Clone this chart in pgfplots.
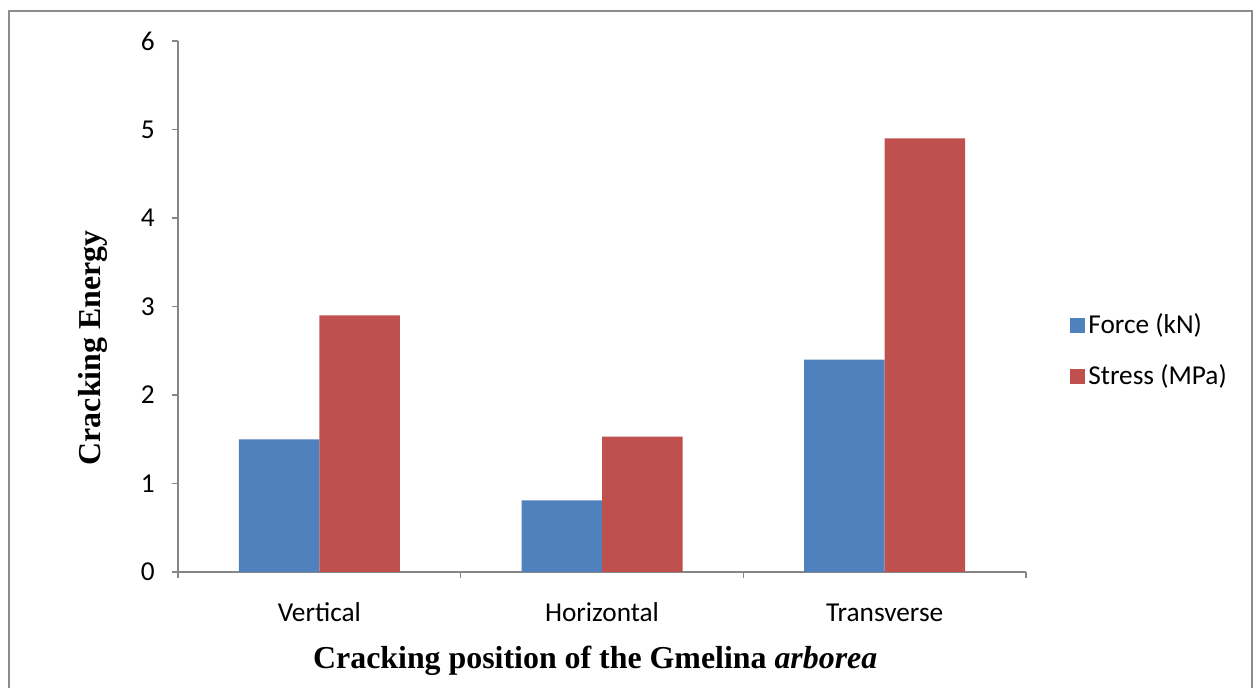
\documentclass[border=0pt]{standalone}
\usepackage{pgfplots}
\pgfplotsset{compat=1.18}
\usepackage{fontspec}
\setmainfont{Liberation Serif}
\newfontfamily\calfont{Carlito}
\definecolor{xblue}{HTML}{4F81BD}
\definecolor{xred}{HTML}{C0504D}
\definecolor{axgray}{HTML}{868686}
\definecolor{framegray}{HTML}{8C8C8C}
\begin{document}
\begin{tikzpicture}
\useasboundingbox (0,0) rectangle (628bp,344bp);
\fill[white] (0,0) rectangle (628bp,344bp);
\draw[framegray, line width=1.2bp] (4.5bp,-5bp) -- (4.5bp,338.5bp) -- (626bp,338.5bp) -- (626bp,-5bp);
\begin{axis}[
  at={(89bp,58bp)}, anchor=south west,
  scale only axis, width=424bp, height=265.5bp,
  xmin=0, xmax=3, ymin=0, ymax=6,
  axis x line*=bottom, axis y line*=left,
  axis line style={axgray, line width=0.8bp, -},
  tick style={axgray, line width=0.8bp},
  tick align=outside,
  major tick length=3bp, minor tick length=3bp,
  xtick={0.5,1.5,2.5},
  xticklabels={Vertical,Horizontal,Transverse},
  major x tick style={draw=none},
  minor xtick={0,1,2,3},
  ytick={0,1,2,3,4,5,6},
  ticklabel style={font=\calfont\fontsize{13.7}{16}\selectfont, text=black},
  yticklabel style={inner sep=0pt, xshift=-8.5bp},
  xticklabel style={inner sep=0pt, text height=10bp, text depth=3bp, yshift=-11.5bp},
  /pgf/number format/assume math mode=true,
  ylabel={\bfseries Cracking Energy},
  ylabel style={font=\fontsize{16}{18}\selectfont, at={(axis description cs:-0.1002,0.422)}, anchor=center},
  xlabel={\bfseries Cracking position of the Gmelina \textit{arborea}},
  xlabel style={font=\fontsize{16}{18}\selectfont, at={(axis description cs:0.492,0)}, anchor=center, yshift=-44.5bp},
  legend style={draw=none, fill=none, at={(axis description cs:1,0.417)}, anchor=west, xshift=19bp,
    font=\calfont\fontsize{13.7}{16}\selectfont, row sep=11bp,
    nodes={inner sep=1.5bp}},
  legend cell align=left,
  ybar, bar width=40.25bp,
]
\addplot[fill=xblue, draw=none, bar shift=-20.125bp,
  legend image code/.code={\fill[xblue] (0bp,-3.75bp) rectangle (7.5bp,3.75bp);}] coordinates {(0.5,1.50) (1.5,0.81) (2.5,2.40)};
\addplot[fill=xred, draw=none, bar shift=20.125bp,
  legend image code/.code={\fill[xred] (0bp,-3.75bp) rectangle (7.5bp,3.75bp);}] coordinates {(0.5,2.90) (1.5,1.53) (2.5,4.90)};
\legend{Force (kN),Stress (MPa)}
\end{axis}
\end{tikzpicture}
\end{document}
